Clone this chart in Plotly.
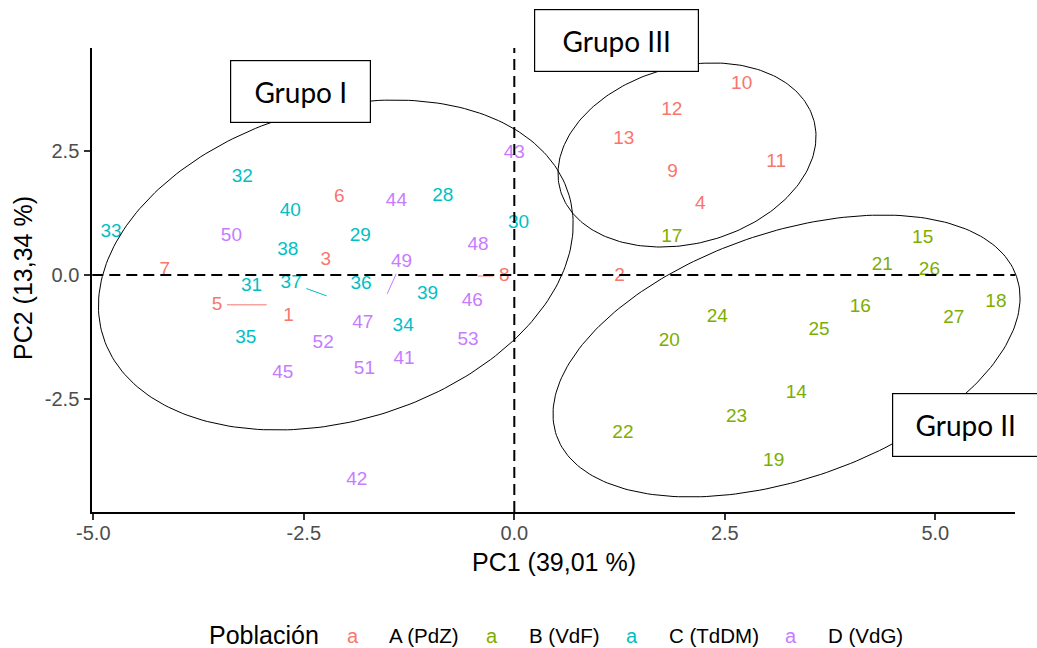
import numpy as np
import plotly.graph_objects as go

W, H = 1037, 648
FONT = "Liberation Sans"

# PCA scores of each sample, by population
ids_A = list(range(1, 14))
pc1_A = [-2.68, 1.25, -2.24, 2.21, -2.94, -2.08, -4.15, -0.43, 1.88, 2.70, 3.11, 1.87, 1.30]
pc2_A = [-0.82, -0.02, 0.30, 1.43, -0.60, 1.57, 0.10, -0.02, 2.07, 3.84, 2.27, 3.32, 2.74]

ids_B = list(range(14, 28))
pc1_B = [3.35, 4.85, 4.11, 1.87, 5.72, 3.08, 1.84, 4.37, 1.29, 2.64, 2.41, 3.62, 4.93, 5.22]
pc2_B = [-2.37, 0.74, -0.64, 0.76, -0.54, -3.74, -1.33, 0.20, -3.18, -2.87, -0.85, -1.11, 0.10, -0.87]

ids_C = list(range(28, 41))
pc1_C = [-0.85, -1.83, 0.05, -3.12, -3.23, -4.79, -1.32, -3.19, -1.82, -2.23, -2.69, -1.03, -2.66]
pc2_C = [1.59, 0.78, 1.05, -0.22, 1.97, 0.85, -1.03, -1.27, -0.18, -0.42, 0.50, -0.38, 1.29]

ids_D = list(range(41, 54))
pc1_D = [-1.31, -1.87, 0.00, -1.40, -2.75, -0.50, -1.80, -0.43, -1.51, -3.36, -1.78, -2.27, -0.55]
pc2_D = [-1.69, -4.12, 2.45, 1.49, -1.97, -0.52, -0.98, 0.60, -0.38, 0.78, -1.90, -1.37, -1.31]

pop_names = ["A (PdZ)", "B (VdF)", "C (TdDM)", "D (VdG)"]
pop_colors = ["#F8766D", "#7CAE00", "#00BFC4", "#C77CFF"]

# labels pushed away from their point (dx, dy, share of the leader left blank near the label)
label_nudge = {5: (-0.59, 0.0, 0.20), 8: (0.31, 0.0, 0.43), 37: (-0.42, 0.26, 0.43), 49: (0.17, 0.64, 0.37)}

# cluster ellipses: centre and two conjugate semi-axes, in PC units
ell_names = ["Grupo I", "Grupo II", "Grupo III"]
ell_center = [(-2.12, 0.201), (3.233, -1.629), (2.051, 2.414)]
ell_u = [(2.77, 1.404), (2.732, 1.599), (1.507, 0.694)]
ell_v = [(-0.524, 3.007), (-0.478, 2.341), (-0.276, 1.716)]

x_ticks = [-5.0, -2.5, 0.0, 2.5, 5.0]
x_ticktext = ["-5.0", "-2.5", "0.0", "2.5", "5.0"]
y_ticks = [-2.5, 0.0, 2.5]
y_ticktext = ["-2.5", "0.0", "2.5"]

X_RANGE = [-5.012, 5.95]
Y_RANGE = [-4.767, 4.566]
X_DOMAIN = [92.3 / W, 1015.3 / W]
Y_DOMAIN = [1 - 512 / H, 1 - 48 / H]


def full_range(r, d):
    span = (r[1] - r[0]) / (d[1] - d[0])
    return [r[0] - d[0] * span, r[0] + (1 - d[0]) * span]


def px(x):
    return x / W


def py(y):
    return 1 - y / H


fig = go.Figure()

groups = [(ids_A, pc1_A, pc2_A), (ids_B, pc1_B, pc2_B), (ids_C, pc1_C, pc2_C), (ids_D, pc1_D, pc2_D)]
for (ids, xs, ys), name, col in zip(groups, pop_names, pop_colors):
    lx, ly = [], []
    for i, x, y in zip(ids, xs, ys):
        if i in label_nudge:
            dx, dy, f = label_nudge[i]
            tx, ty = x + dx, y + dy
            fig.add_trace(go.Scatter(
                x=[tx + (x - tx) * f, x], y=[ty + (y - ty) * f, y], mode="lines",
                line=dict(color=col, width=1), hoverinfo="skip", showlegend=False))
            lx.append(tx)
            ly.append(ty)
        else:
            lx.append(x)
            ly.append(y)
    fig.add_trace(go.Scatter(
        x=lx, y=ly, mode="text", text=[str(i) for i in ids], name=name,
        textposition="middle center", cliponaxis=False,
        textfont=dict(family=FONT, size=19, color=col), showlegend=False))

# ellipses live on a full-frame overlay with the same scale, so they may cross the axes
t = np.linspace(0, 2 * np.pi, 241)
for (cx, cy), (ux, uy), (vx, vy) in zip(ell_center, ell_u, ell_v):
    fig.add_trace(go.Scatter(
        x=cx + ux * np.cos(t) + vx * np.sin(t), y=cy + uy * np.cos(t) + vy * np.sin(t),
        mode="lines", line=dict(color="black", width=1), xaxis="x2", yaxis="y2",
        hoverinfo="skip", showlegend=False))

axis_common = dict(showline=True, linecolor="black", linewidth=2, ticks="outside", ticklen=6,
                   tickwidth=2, tickcolor="#333333", showgrid=False, zeroline=False,
                   automargin=False,
                   tickfont=dict(family=FONT, size=20, color="#4D4D4D"))
fig.update_layout(
    template="none",
    width=W, height=H, margin=dict(l=0, r=0, t=0, b=0, autoexpand=False),
    plot_bgcolor="rgba(0,0,0,0)", paper_bgcolor="white", showlegend=False,
    xaxis=dict(domain=X_DOMAIN, range=X_RANGE, tickvals=x_ticks, ticktext=x_ticktext, anchor="y",
               ticklabelstandoff=-4, **axis_common),
    yaxis=dict(domain=Y_DOMAIN, range=Y_RANGE, tickvals=y_ticks, ticktext=y_ticktext, anchor="x",
               ticklabelstandoff=1, **axis_common),
    xaxis2=dict(domain=[0, 1], range=full_range(X_RANGE, X_DOMAIN), visible=False, anchor="y2", automargin=False),
    yaxis2=dict(domain=[0, 1], range=full_range(Y_RANGE, Y_DOMAIN), visible=False, anchor="x2", automargin=False),
)

# reference lines through the origin
fig.add_shape(type="line", xref="x", yref="y domain", x0=0, x1=0, y0=0, y1=1,
              line=dict(color="black", width=2, dash="11px,6px"))
fig.add_shape(type="line", xref="x domain", yref="y", x0=0, x1=1, y0=0, y1=0,
              line=dict(color="black", width=2, dash="11px,6px"))

# axis titles
fig.add_annotation(text="PC1 (39,01 %)", xref="paper", yref="paper", x=px(553.5), y=py(562),
                   xanchor="center", yanchor="middle",
                   showarrow=False, font=dict(family=FONT, size=25, color="black"))
fig.add_annotation(text="PC2 (13,34 %)", xref="paper", yref="paper", x=px(23), y=py(278),
                   xanchor="center", yanchor="middle",
                   textangle=-90, showarrow=False, font=dict(family=FONT, size=25, color="black"))

# group boxes
boxes = [("Grupo I", 300, 92, 139, 61), ("Grupo III", 616, 41, 163, 61), ("Grupo II", 965, 424.5, 145, 62)]
for label, bx, by, bw, bh in boxes:
    fig.add_annotation(text=label, xref="paper", yref="paper", x=px(bx), y=py(by),
                       xanchor="center", yanchor="middle", width=bw, height=bh,
                       showarrow=False, bgcolor="white", bordercolor="black",
                       borderwidth=1.2, borderpad=0,
                       font=dict(family="Lato", size=28, color="black"))

# legend
fig.add_annotation(text="Población", xref="paper", yref="paper", x=px(207), y=py(635),
                   xanchor="left", yanchor="middle", showarrow=False,
                   font=dict(family=FONT, size=25, color="black"))
key_x = [353, 492, 632, 791]
lab_x = [387, 527, 667, 826]
for name, col, kx, lxp in zip(pop_names, pop_colors, key_x, lab_x):
    fig.add_annotation(text="a", xref="paper", yref="paper", x=px(kx), y=py(636),
                       xanchor="center", yanchor="middle", showarrow=False,
                       font=dict(family=FONT, size=20, color=col))
    fig.add_annotation(text=name, xref="paper", yref="paper", x=px(lxp), y=py(635),
                       xanchor="left", yanchor="middle", showarrow=False,
                       font=dict(family=FONT, size=20.5, color="black"))

fig.write_html("out.html")
